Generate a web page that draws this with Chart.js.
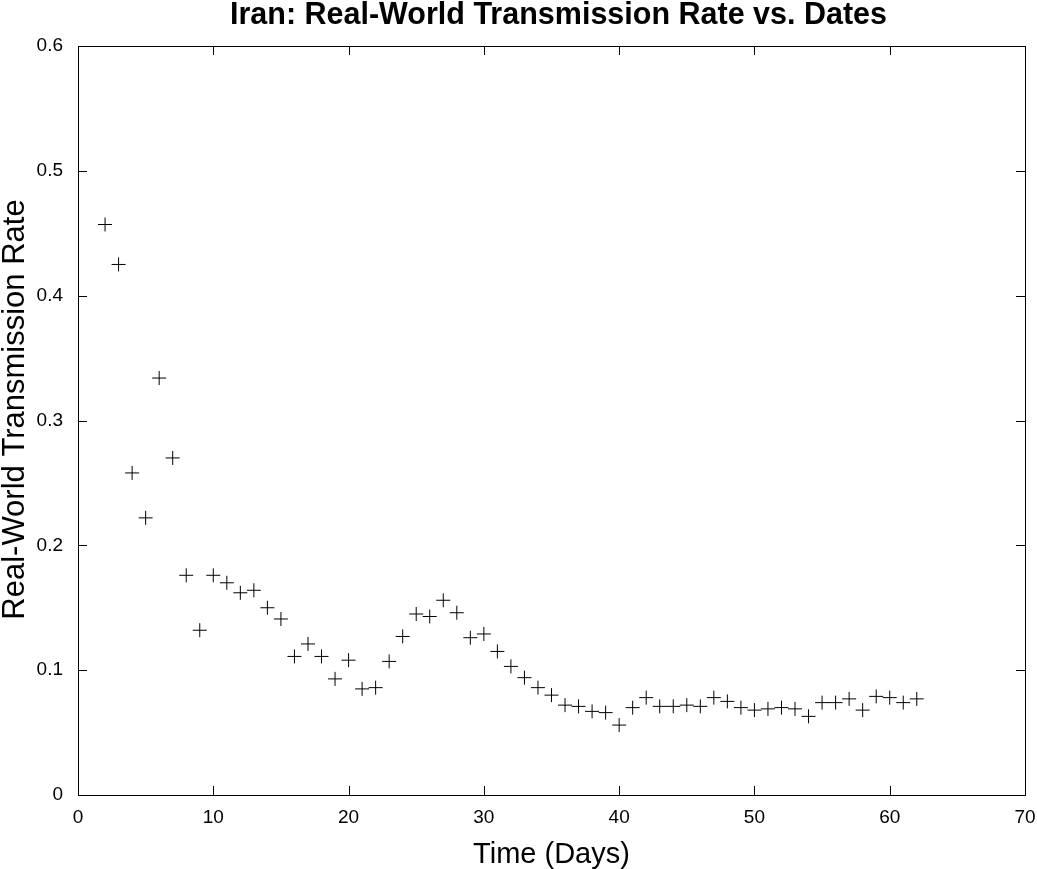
<!DOCTYPE html>
<html>
<head>
<meta charset="utf-8">
<script src="https://cdn.jsdelivr.net/npm/chart.js@4.4.1/dist/chart.umd.min.js"></script>
<style>
  html, body { margin: 0; padding: 0; background: #fff; }
  #wrap { width: 1037px; height: 869px; }
</style>
</head>
<body>
<div id="wrap"><canvas id="chart"></canvas></div>
<script>
const days = [2, 3, 4, 5, 6, 7, 8, 9, 10, 11, 12, 13, 14, 15, 16, 17, 18, 19, 20, 21,
  22, 23, 24, 25, 26, 27, 28, 29, 30, 31, 32, 33, 34, 35, 36, 37, 38, 39, 40, 41,
  42, 43, 44, 45, 46, 47, 48, 49, 50, 51, 52, 53, 54, 55, 56, 57, 58, 59, 60, 61, 62];
const rates = [0.457, 0.425, 0.258, 0.222, 0.334, 0.270, 0.176, 0.132, 0.176, 0.170,
  0.162, 0.164, 0.150, 0.141, 0.111, 0.121, 0.111, 0.093, 0.108, 0.085,
  0.086, 0.107, 0.127, 0.145, 0.143, 0.156, 0.146, 0.126, 0.129, 0.115,
  0.103, 0.094, 0.086, 0.080, 0.072, 0.071, 0.067, 0.066, 0.056, 0.070,
  0.078, 0.071, 0.071, 0.072, 0.071, 0.078, 0.075, 0.070, 0.068, 0.069,
  0.070, 0.069, 0.063, 0.074, 0.074, 0.077, 0.068, 0.079, 0.078, 0.074, 0.077];
const xTicks = [0, 10, 20, 30, 40, 50, 60, 70];
const yTicks = [0, 0.1, 0.2, 0.3, 0.4, 0.5, 0.6];
const titleText = 'Iran: Real-World Transmission Rate vs. Dates';
const yTitleText = 'Real-World Transmission Rate';

const FONT = '"Liberation Sans", Arial, sans-serif';

// frame round the plot with inward ticks (matlab style) + title and y label
const boxTicks = {
  id: 'boxTicks',
  afterDraw(chart) {
    const { ctx, chartArea: a, scales: { x, y } } = chart;
    const len = 9;
    ctx.save();
    ctx.strokeStyle = '#000';
    ctx.lineWidth = 1;
    ctx.beginPath();
    x.ticks.forEach(t => {
      const px = Math.round(x.getPixelForValue(t.value)) + 0.5;
      ctx.moveTo(px, a.bottom); ctx.lineTo(px, a.bottom - len);
      ctx.moveTo(px, a.top); ctx.lineTo(px, a.top + len);
    });
    y.ticks.forEach(t => {
      const py = Math.round(y.getPixelForValue(t.value)) + 0.5;
      ctx.moveTo(a.left, py); ctx.lineTo(a.left + len, py);
      ctx.moveTo(a.right, py); ctx.lineTo(a.right - len, py);
    });
    ctx.stroke();
    ctx.strokeRect(Math.round(a.left) + 0.5, Math.round(a.top) + 0.5,
      Math.round(a.right - a.left), Math.round(a.bottom - a.top));

    ctx.fillStyle = '#000';
    ctx.textAlign = 'center';
    ctx.textBaseline = 'middle';
    ctx.font = 'bold 30.5px ' + FONT;
    ctx.fillText(titleText, (a.left + a.right) / 2 + 7, 16);

    ctx.translate(15, (a.top + a.bottom) / 2 - 11);
    ctx.rotate(-Math.PI / 2);
    ctx.font = '31px ' + FONT;
    ctx.fillText(yTitleText, 0, 0);
    ctx.restore();
  }
};

Chart.defaults.font.family = FONT;
Chart.defaults.color = '#000';

new Chart(document.getElementById('chart'), {
  type: 'scatter',
  data: {
    datasets: [{
      data: days.map((d, i) => ({ x: d, y: rates[i] })),
      pointStyle: 'cross',
      pointRadius: 7,
      pointHoverRadius: 7,
      borderColor: '#000',
      backgroundColor: '#000',
      borderWidth: 1
    }]
  },
  options: {
    responsive: true,
    maintainAspectRatio: false,
    animation: false,
    layout: { padding: { top: 46, right: 12 } },
    plugins: {
      legend: { display: false },
      tooltip: { enabled: false },
      title: { display: false }
    },
    scales: {
      x: {
        type: 'linear',
        min: 0, max: 70,
        afterBuildTicks: s => { s.ticks = xTicks.map(v => ({ value: v })); },
        afterFit: s => { s.height = 74; s.paddingLeft = 0; s.paddingRight = 0; },
        grid: { display: false, drawTicks: false },
        border: { display: false },
        ticks: { font: { size: 19 }, padding: 11, maxRotation: 0 },
        title: { display: true, text: 'Time (Days)', font: { size: 29 }, padding: { top: 0, bottom: -3 } }
      },
      y: {
        min: 0, max: 0.6,
        afterBuildTicks: s => { s.ticks = yTicks.map(v => ({ value: v })); },
        afterFit: s => { s.width = 78; s.paddingTop = 0; s.paddingBottom = 0; },
        grid: { display: false, drawTicks: false },
        border: { display: false },
        ticks: { font: { size: 19 }, padding: 15 },
        title: { display: false }
      }
    }
  },
  plugins: [boxTicks]
});
</script>
</body>
</html>
